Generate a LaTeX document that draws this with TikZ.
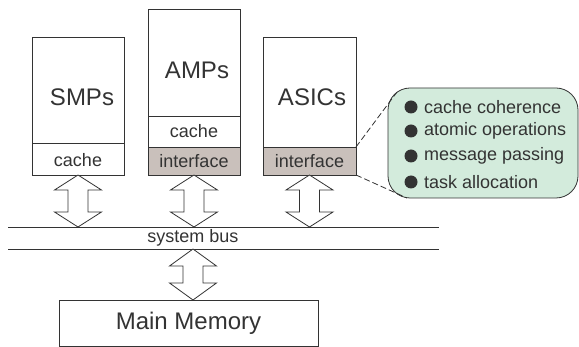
\documentclass[tikz,border=0pt]{standalone}
\usepackage{fontspec}
\setmainfont{Liberation Sans}
\usetikzlibrary{calc}

\definecolor{ink}{HTML}{333333}
\definecolor{ifgray}{HTML}{C9C0BB}
\definecolor{notegreen}{HTML}{D3EBDC}

\tikzset{
  blk/.style={draw=ink, line width=0.8pt, fill=white},
  ifblk/.style={draw=ink, line width=0.8pt, fill=ifgray},
  bigtxt/.style={text=ink, font=\fontsize{24}{28}\selectfont, inner sep=0pt},
  smalltxt/.style={text=ink, font=\fontsize{18}{21}\selectfont, inner sep=0pt},
  busline/.style={draw=ink, line width=0.8pt},
  leader/.style={draw=ink, line width=0.8pt, dash pattern=on 6pt off 3pt},
  % hollow double-headed arrow between a device and the bus
  pics/dblarrow/.style args={#1/#2}{code={
    \draw[ink, line width=0.8pt, fill=white, line join=miter]
      (0,0) -- (23.5,#2) -- (10,#2) -- (10,#1-#2) -- (23.5,#1-#2) -- (0,#1)
      -- (-23.5,#1-#2) -- (-10,#1-#2) -- (-10,#2) -- (-23.5,#2) -- cycle;
  }}
}

\begin{document}
\begin{tikzpicture}[x=1pt, y=-1pt]
\useasboundingbox (0,0) rectangle (579,347);

% processor blocks
\draw[blk]   (32,37) rectangle (124,143) coordinate (smpmid);
\draw[blk]   (32,143) rectangle (124,175);
\node[bigtxt]   (smp)  at (82,97)  {SMPs};
\node[smalltxt] (smpc) at (78,160) {cache};

\draw[blk]   (148,9) rectangle (240,116);
\draw[blk]   (148,116) rectangle (240,147);
\draw[ifblk] (148,147) rectangle (240,175);
\node[bigtxt]   (amp)  at (197,70)  {AMPs};
\node[smalltxt] (ampc) at (194,131) {cache};
\node[smalltxt] (ampi) at (194,161) {interface};

\draw[blk]   (263,37) rectangle (356,147);
\draw[ifblk] (263,147) rectangle (356,175);
\node[bigtxt]   (asic)  at (312,97)  {ASICs};
\node[smalltxt] (asici) at (309.5,161) {interface};

\coordinate (ifne) at (356,147);
\coordinate (ifse) at (356,175);

% feature callout
\draw[draw=ink, line width=0.8pt, fill=notegreen, rounded corners=22pt]
  (388,88) rectangle (578,198);
\coordinate (calnw) at (397,92);
\coordinate (calsw) at (407,198);
\draw[leader] (ifne) -- (calnw);
\draw[leader] (ifse) -- (calsw);

\foreach \y/\t [count=\i] in {107/cache coherence, 131/atomic operations,
                              156/message passing, 182/task allocation}{
  \fill[ink] (411,\y) circle (6.5pt);
  \node[smalltxt, anchor=west] (item\i) at (424,\y) {\t};
}

% system bus
\coordinate (busl1) at (8,227);
\coordinate (busr1) at (439,227);
\coordinate (busl2) at (8,249);
\coordinate (busr2) at (439,249);
\draw[busline] (busl1) -- (busr1);
\draw[busline] (busl2) -- (busr2);
\node[smalltxt] (bus) at (193,238) {system bus};

% links to the bus
\pic at (78,175)    {dblarrow=52/15};
\pic at (194,175)   {dblarrow=52/15};
\pic at (309.5,175) {dblarrow=52/15};
\pic at (193,249)   {dblarrow=51/17};

% memory
\draw[blk] (59,300) rectangle (318,346);
\node[bigtxt] (mem) at (188.5,323) {Main Memory};
\end{tikzpicture}
\end{document}
